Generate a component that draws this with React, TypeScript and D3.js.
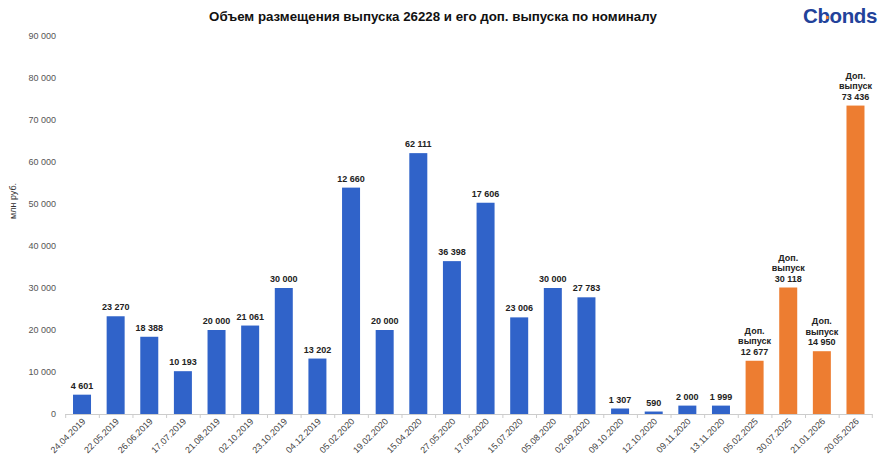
// Bar chart: placement volume of issue 26228 and its additional issues
import * as d3 from 'd3';

const dates = [
  '24.04.2019', '22.05.2019', '26.06.2019', '17.07.2019', '21.08.2019', '02.10.2019',
  '23.10.2019', '04.12.2019', '05.02.2020', '19.02.2020', '15.04.2020', '27.05.2020',
  '17.06.2020', '15.07.2020', '05.08.2020', '02.09.2020', '09.10.2020', '12.10.2020',
  '09.11.2020', '13.11.2020', '05.02.2025', '30.07.2025', '21.01.2026', '20.05.2026',
];

// bar heights as drawn (mln rub.)
const volumes = [
  4601, 23270, 18388, 10193, 20000, 21061, 30000, 13202, 53900, 20000, 62111, 36398,
  50300, 23006, 30000, 27783, 1307, 590, 2000, 1999, 12677, 30118, 14950, 73436,
];

// values printed above the bars
const labelValues = [
  4601, 23270, 18388, 10193, 20000, 21061, 30000, 13202, 12660, 20000, 62111, 36398,
  17606, 23006, 30000, 27783, 1307, 590, 2000, 1999, 12677, 30118, 14950, 73436,
];

const additional = [
  false, false, false, false, false, false, false, false, false, false, false, false,
  false, false, false, false, false, false, false, false, true, true, true, true,
];

const yTicks = [0, 10000, 20000, 30000, 40000, 50000, 60000, 70000, 80000, 90000];

const W = 881;
const H = 463;
const left = 65.2;
const right = 872.3;
const top = 36;
const bottom = 414;
const font = '"Liberation Sans", Arial, sans-serif';
const blue = '#3063c9';
const orange = '#ed7d31';

const fmt = (v: number) => d3.format(',')(v).replace(/,/g, ' ');

export default function App() {
  const x = d3.scaleBand<string>().domain(dates).range([left, right]);
  const y = d3.scaleLinear().domain([0, 90000]).range([bottom, top]);
  const step = x.step();
  const barW = 18;

  return (
    <div style={{ position: 'fixed', left: 0, top: 0 }}>
      <svg width={W} height={H} style={{ display: 'block', background: '#fff' }} fontFamily={font}>
        <text x={433} y={21} textAnchor="middle" fontSize={13.3} fontWeight="bold" fill="#111">
          Объем размещения выпуска 26228 и его доп. выпуска по номиналу
        </text>

        {/* logo */}
        <text x={803} y={23} fontSize={20.5} fontWeight="bold" fill="#22429a" letterSpacing={-0.4}>
          Cbonds
        </text>
        <rect x={826} y={16} width={2.5} height={3} fill={orange} />

        {/* y axis label */}
        <text
          transform="translate(16,201) rotate(-90)"
          textAnchor="middle"
          fontSize={9}
          fill="#333"
        >
          млн руб.
        </text>

        {yTicks.map(t => (
          <text key={t} x={56} y={y(t) + 3} textAnchor="end" fontSize={9} fill="#555">
            {fmt(t)}
          </text>
        ))}

        {/* bars */}
        {dates.map((d, i) => {
          const cx = (x(d) || 0) + step / 2;
          return (
            <rect
              key={d}
              x={cx - barW / 2}
              y={y(volumes[i])}
              width={barW}
              height={bottom - y(volumes[i])}
              fill={additional[i] ? orange : blue}
            />
          );
        })}

        {/* x axis */}
        <line x1={left} x2={right} y1={bottom + 0.5} y2={bottom + 0.5} stroke="#ccc" />
        {dates.map(d => (
          <line
            key={'t' + d}
            x1={(x(d) || 0) + 0.5}
            x2={(x(d) || 0) + 0.5}
            y1={bottom}
            y2={bottom + 4}
            stroke="#ccc"
          />
        ))}
        <line x1={right} x2={right} y1={bottom} y2={bottom + 4} stroke="#ccc" />

        {dates.map(d => {
          const cx = (x(d) || 0) + step / 2;
          return (
            <text
              key={'l' + d}
              transform={`translate(${cx + 4},${bottom + 8}) rotate(-45)`}
              textAnchor="end"
              fontSize={9}
              fill="#444"
            >
              {d}
            </text>
          );
        })}

        {/* value labels */}
        {dates.map((d, i) => {
          const cx = (x(d) || 0) + step / 2;
          const base = y(volumes[i]) - 6;
          if (additional[i]) {
            return (
              <text key={'v' + d} textAnchor="middle" fontSize={9} fontWeight="bold" fill="#222">
                <tspan x={cx} y={base - 21}>Доп.</tspan>
                <tspan x={cx} y={base - 10.5}>выпуск</tspan>
                <tspan x={cx} y={base}>{fmt(labelValues[i])}</tspan>
              </text>
            );
          }
          return (
            <text key={'v' + d} x={cx} y={base} textAnchor="middle" fontSize={9} fontWeight="bold" fill="#222">
              {fmt(labelValues[i])}
            </text>
          );
        })}
      </svg>
    </div>
  );
}
